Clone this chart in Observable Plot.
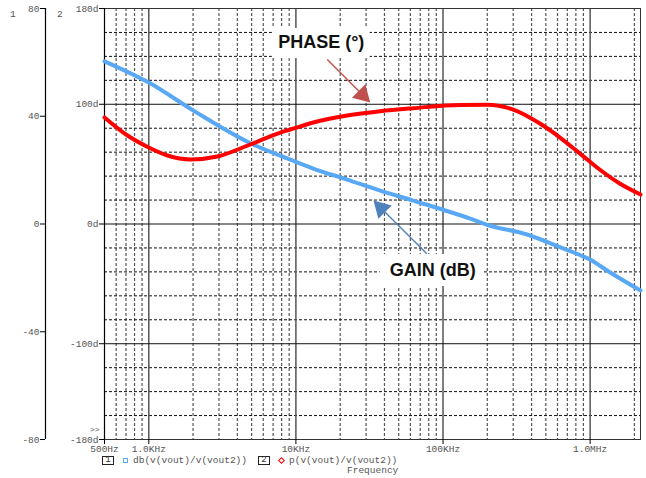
<!DOCTYPE html>
<html><head><meta charset="utf-8">
<script src="https://cdn.jsdelivr.net/npm/d3@7"></script>
<script src="https://cdn.jsdelivr.net/npm/@observablehq/plot@0.6"></script>
<style>
body{margin:0;background:#fff;}
#wrap{position:relative;width:646px;height:478px;font-family:"Liberation Mono",monospace;font-size:9.5px;color:#555;}
#wrap svg{position:absolute;left:0;top:0;}
.lab{position:absolute;white-space:pre;line-height:11px;}
.box{position:absolute;border:1px solid #222;width:10px;height:7px;line-height:7px;text-align:center;color:#333;font-size:9px;}
.mk{position:absolute;width:3px;height:3px;}
</style></head><body><div id="wrap"></div>
<script>
// Phase trace p(v(vout)/v(vout2)) in degrees
const phaseFreq = [500, 717, 1000, 1339, 1919, 2926, 4898, 7834, 9160, 13120, 22330, 37400, 62650, 130000, 200000, 300000, 456000, 624000, 854000, 1160000, 1590000, 2200000];
const phaseDeg  = [89.0, 73.9, 63.9, 57.2, 53.9, 56.4, 66.4, 76.4, 78.9, 84.8, 90.6, 94.2, 96.7, 99.5, 99.6, 95.6, 83.9, 72.2, 58.8, 45.5, 33.8, 24.6];
// Gain trace db(v(vout)/v(vout2)) in dB
const gainFreq = [500, 1000, 2010, 4898, 9160, 13120, 22330, 37400, 62650, 152900, 199500, 372500, 623800, 997000, 1360000, 2200000];
const gainDb   = [60.4, 52.5, 42.1, 30.0, 23.9, 20.6, 16.5, 12.4, 8.7, 2.0, -0.3, -3.9, -8.6, -13.2, -17.9, -24.7];

const xTicks = [500, 1000, 10000, 100000, 1000000];
const xTickLabels = ["500Hz", "1.0KHz", "10KHz", "100KHz", "1.0MHz"];
const xMajorGrid = [1000, 10000, 100000, 1000000];
const xMinorGrid = [600, 700, 800, 900,
  2000, 3000, 4000, 5000, 6000, 7000, 8000, 9000,
  20000, 30000, 40000, 50000, 60000, 70000, 80000, 90000,
  200000, 300000, 400000, 500000, 600000, 700000, 800000, 900000, 2000000];
const phaseTicks = [-180, -100, 0, 100, 180];
const phaseMajorGrid = [-100, 0, 100];
const phaseMinorGrid = [-160, -140, -120, -80, -60, -40, -20, 20, 40, 60, 80, 120, 140, 160];
const gainTicks = [-80, -40, 0, 40, 80];
const traceNames = ["db(v(vout)/v(vout2))", "p(v(vout)/v(vout2))"];

// Annotations (frequency, phase-scale units)
const noteText = ["PHASE (°)", "GAIN (dB)"];
const noteFreq = [14870, 85000];
const noteY = [151.6, -38.8];
const noteBoxF1 = [6918, 37410], noteBoxF2 = [32000, 190000];
const noteBoxY1 = [138.2, -52.2], noteBoxY2 = [163.3, -25.5];
const arrowF1 = [16340, 77630], arrowY1 = [137.4, -24.9];
const arrowF2 = [28370, 37990], arrowY2 = [107.9, 13.2];
const arrowColor = ["#c0504d", "#4f81bd"];
const arrowRotate = [135, -45];

const G2P = 180 / 80; // gain axis -80..80 shares the -180..180 phase range
const phaseData = phaseFreq.map((f, i) => ({f, v: phaseDeg[i]}));
const gainData = gainFreq.map((f, i) => ({f, v: gainDb[i] * G2P}));
const notes = noteText.map((t, i) => ({t, f: noteFreq[i], y: noteY[i], bf1: noteBoxF1[i], bf2: noteBoxF2[i], by1: noteBoxY1[i], by2: noteBoxY2[i]}));
const arrows = arrowF1.map((f, i) => ({f1: f, y1: arrowY1[i], f2: arrowF2[i], y2: arrowY2[i], c: arrowColor[i]}));
const xTickData = xTicks.map((f, i) => ({f, t: xTickLabels[i]}));

const chart = Plot.plot({
  width: 646, height: 478,
  marginTop: 8, marginRight: 6, marginBottom: 39, marginLeft: 104,
  x: {type: "log", domain: [500, 2200000]},
  y: {domain: [-180, 180]},
  style: {fontFamily: "Liberation Mono, monospace", fontSize: "9.5px", color: "#555", background: "transparent", overflow: "visible"},
  marks: [
    Plot.ruleX(xMinorGrid, {stroke: "#555", strokeDasharray: "3,2", strokeWidth: 1.2}),
    Plot.ruleY(phaseMinorGrid, {stroke: "#111", strokeDasharray: "3,2", strokeWidth: 1}),
    Plot.ruleX(xMajorGrid, {stroke: "#555", strokeWidth: 1.5}),
    Plot.ruleY(phaseMajorGrid, {stroke: "#111", strokeWidth: 1}),
    Plot.frame({stroke: "#333"}),
    Plot.ruleX([500], {stroke: "#000", strokeWidth: 1.2}),
    Plot.ruleX([500], {dx: -59, stroke: "#000", strokeWidth: 1.2}),
    Plot.axisX({ticks: xTicks, tickFormat: () => "", tickSize: 5, label: null, stroke: "#000"}),
    Plot.text(xTickData, {x: "f", text: "t", frameAnchor: "bottom", dy: 12, fill: "#555"}),
    Plot.axisY({ticks: phaseTicks, tickFormat: d => d + "d", tickSize: 5, tickPadding: 1, label: null, fill: "#555", stroke: "#000"}),
    Plot.axisY({ticks: gainTicks.map(g => g * G2P), tickFormat: d => String(Math.round(d / G2P)), tickSize: 5, tickPadding: 1, dx: -59, label: null, fill: "#555", stroke: "#000"}),
    Plot.line(gainData, {x: "f", y: "v", stroke: "#58a8f5", strokeWidth: 4, curve: "monotone-x"}),
    Plot.line(phaseData, {x: "f", y: "v", stroke: "#ff0000", strokeWidth: 4, curve: "monotone-x"}),
    Plot.rect(notes, {x1: "bf1", x2: "bf2", y1: "by1", y2: "by2", fill: "white"}),
    Plot.text(notes, {x: "f", y: "y", text: "t", fontFamily: "Liberation Sans, Arial, sans-serif", fontWeight: "bold", fontSize: 18, fill: "#111"}),
    Plot.link(arrows, {x1: "f1", y1: "y1", x2: "f2", y2: "y2", stroke: d => d.c, strokeWidth: 1.4}),
    Plot.dot(arrows.slice(0, 1), {x: "f2", y: "y2", symbol: "triangle", r: 7, fill: arrowColor[0], stroke: "none", rotate: arrowRotate[0]}),
    Plot.dot(arrows.slice(1, 2), {x: "f2", y: "y2", symbol: "triangle", r: 7, fill: arrowColor[1], stroke: "none", rotate: arrowRotate[1]})
  ]
});
const wrap = document.getElementById("wrap");
wrap.appendChild(chart);

function lab(text, left, top, extra) {
  const d = document.createElement("div");
  d.className = "lab"; d.textContent = text;
  d.style.left = left + "px"; d.style.top = top + "px";
  if (extra) Object.assign(d.style, extra);
  wrap.appendChild(d);
}
function box(text, left, top) {
  const d = document.createElement("div");
  d.className = "box"; d.textContent = text;
  d.style.left = left + "px"; d.style.top = top + "px";
  wrap.appendChild(d);
}
function mk(left, top, color, rot) {
  const d = document.createElement("div");
  d.className = "mk";
  d.style.left = left + "px"; d.style.top = top + "px";
  d.style.border = "1px solid " + color;
  if (rot) d.style.transform = "rotate(45deg)";
  wrap.appendChild(d);
}
lab("1", 10, 9);
lab("2", 57, 9);
lab(">>", 90, 424, {fontSize: "8px"});
box("1", 102, 456);
mk(123, 458, "#58a8f5", false);
lab(traceNames[0], 133, 455);
box("2", 258, 456);
mk(279, 458, "#ff0000", true);
lab(traceNames[1], 289, 455);
lab("Frequency", 347, 465);
</script></body></html>
